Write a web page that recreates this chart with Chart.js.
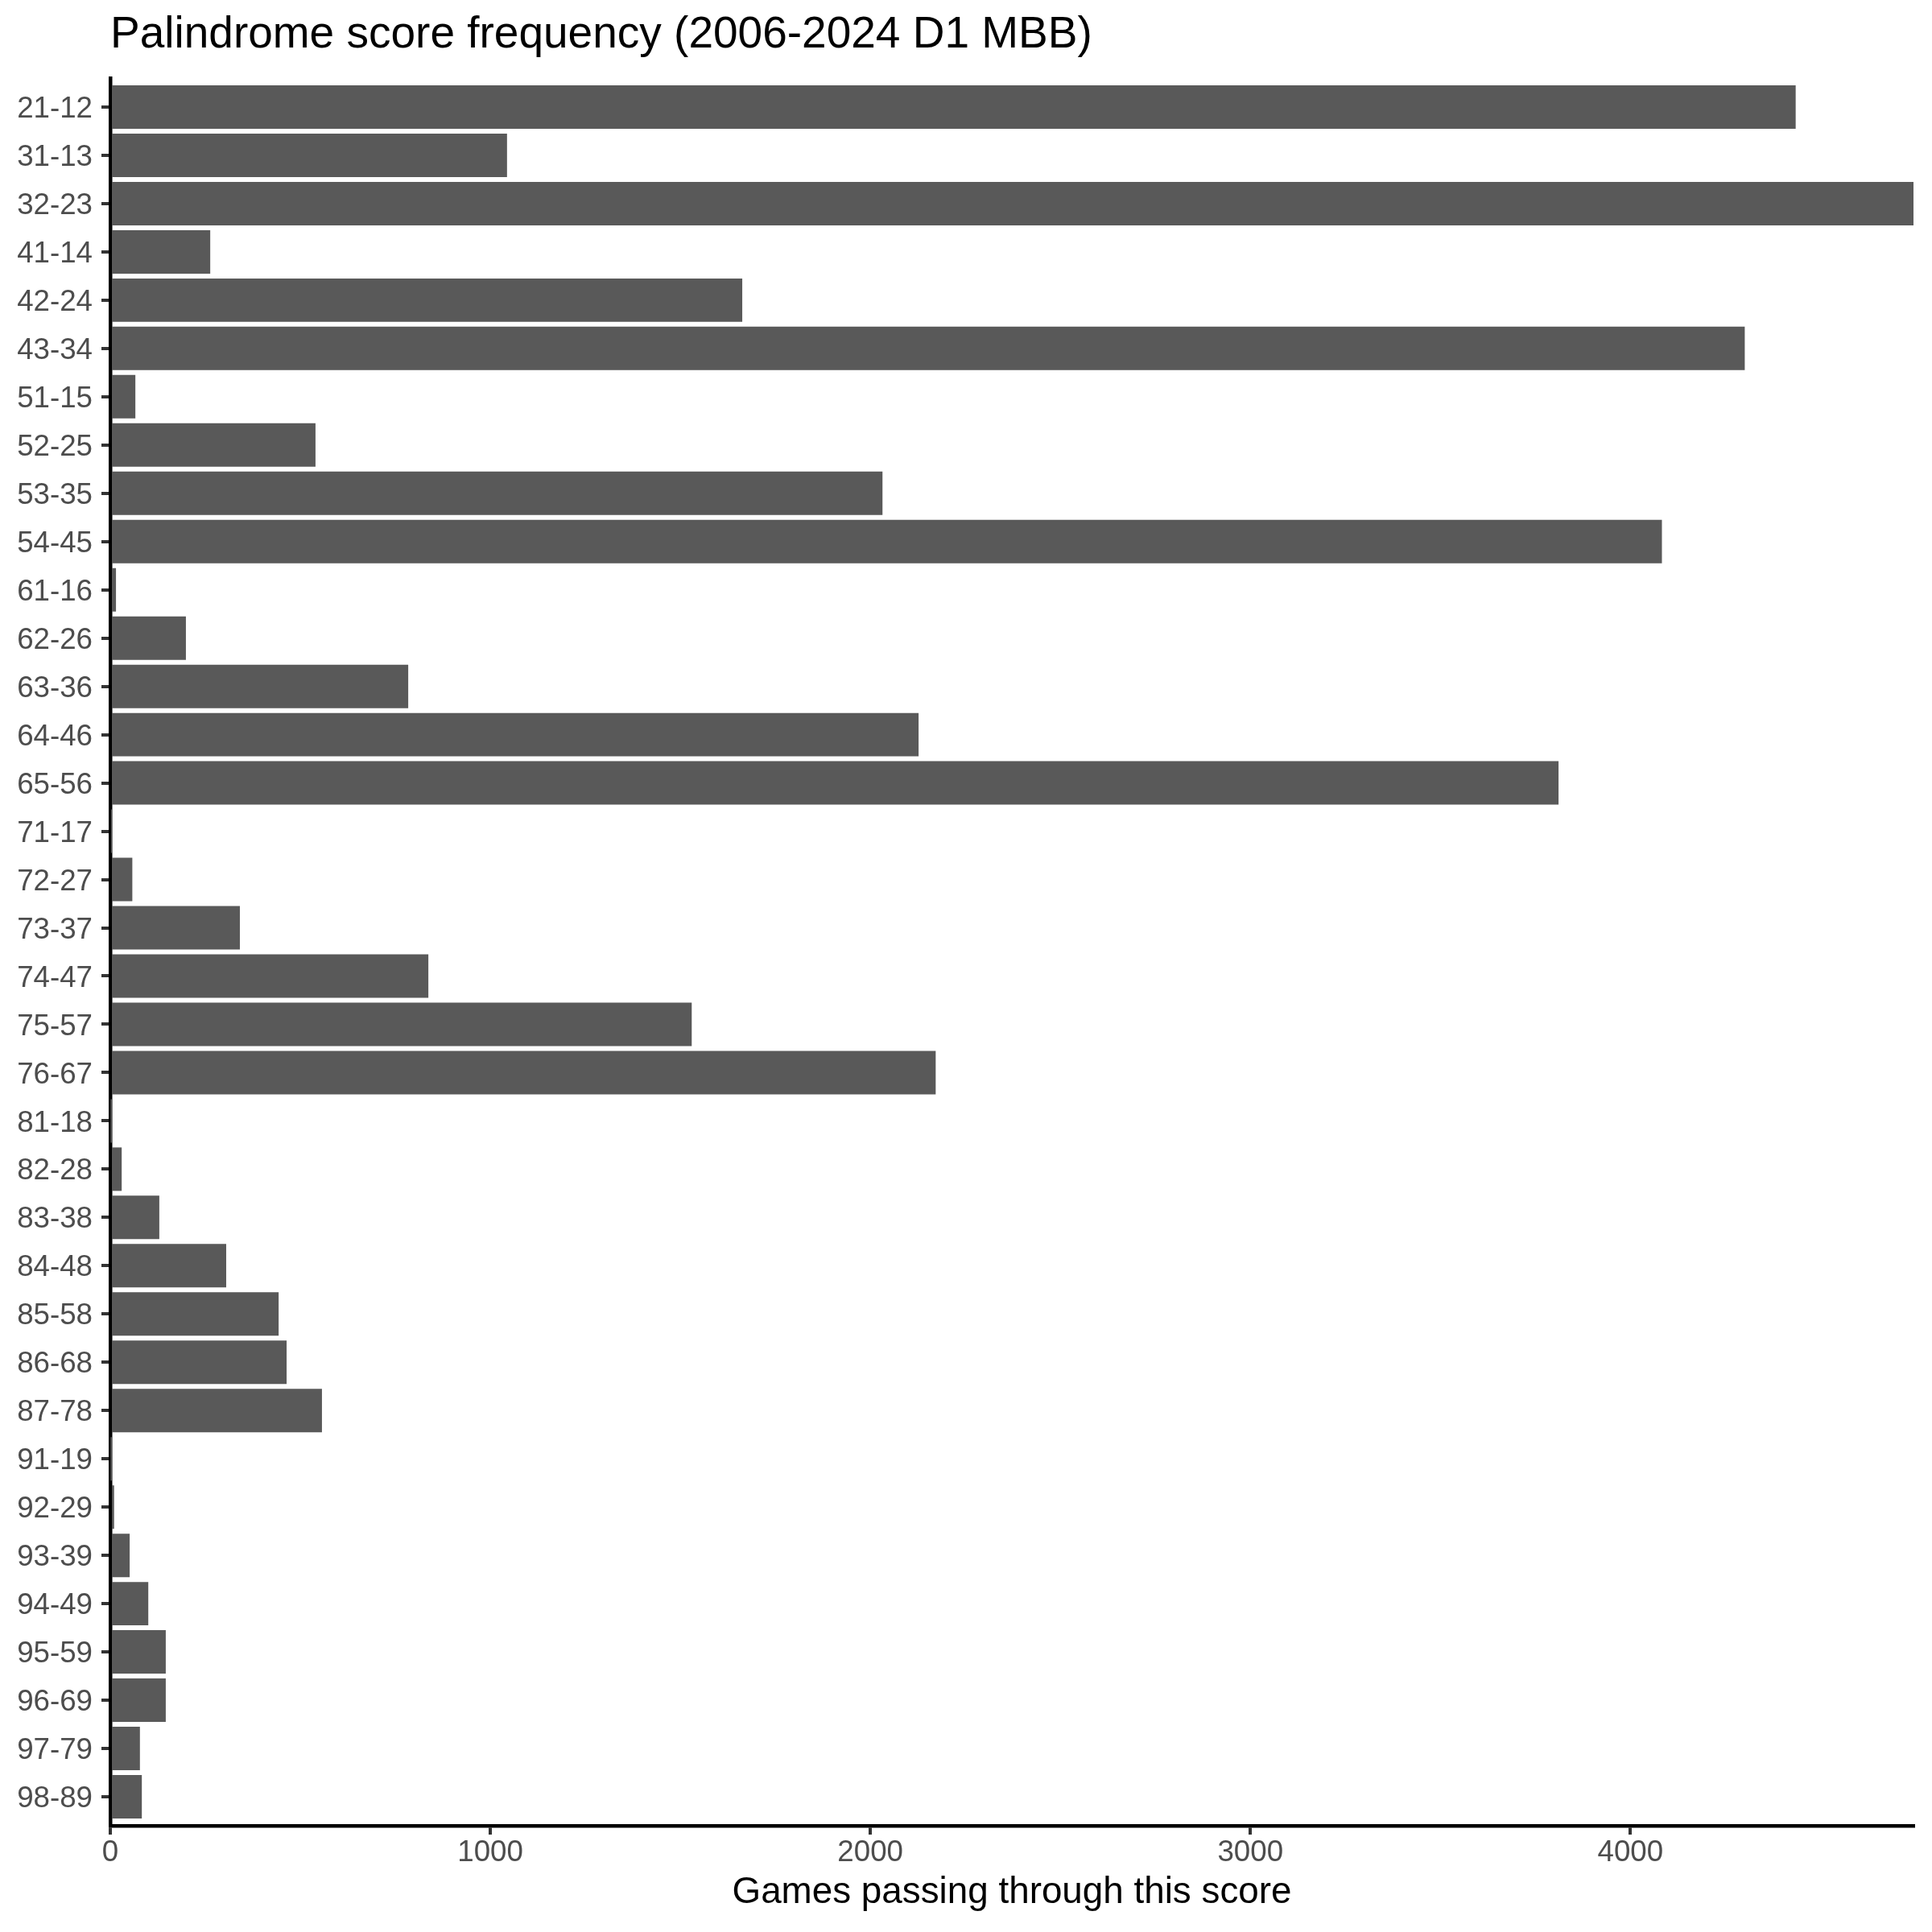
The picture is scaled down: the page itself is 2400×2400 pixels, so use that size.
<!DOCTYPE html>
<html>
<head>
<meta charset="utf-8">
<title>Palindrome score frequency</title>
<script src="https://cdn.jsdelivr.net/npm/chart.js@4.4.1/dist/chart.umd.min.js"></script>
<style>
    html, body { margin: 0; padding: 0; background: #ffffff; }
    #paliChart { display: block; }
</style>
</head>
<body>
<canvas id="paliChart" width="2400" height="2400"></canvas>
<script>
const scores = ['21-12', '31-13', '32-23', '41-14', '42-24', '43-34', '51-15', '52-25', '53-35',
    '54-45', '61-16', '62-26', '63-36', '64-46', '65-56', '71-17', '72-27', '73-37', '74-47',
    '75-57', '76-67', '81-18', '82-28', '83-38', '84-48', '85-58', '86-68', '87-78', '91-19',
    '92-29', '93-39', '94-49', '95-59', '96-69', '97-79', '98-89'];

const games = [4435, 1044, 4745, 263, 1663, 4301, 66, 540, 2032,
    4083, 15, 199, 784, 2127, 3811, 2, 58, 341, 837,
    1530, 2172, 1, 30, 129, 305, 443, 464, 557, 1,
    10, 51, 100, 146, 146, 78, 83];

const xTickValues = [0, 1000, 2000, 3000, 4000];
const xMax = 4745;

const PALICHART = document.getElementById('paliChart');

let paliChart = new Chart(PALICHART, {
    type: 'bar',
    data: {
        datasets: [{
            label: 'Games',
            data: games.map((g, i) => ({ x: g, y: i })),
            backgroundColor: '#595959',
            borderWidth: 0,
            categoryPercentage: 1.0,
            barPercentage: 0.9
        }]
    },
    options: {
        indexAxis: 'y',
        responsive: false,
        animation: false,
        devicePixelRatio: 1,
        layout: {
            padding: { top: 0, left: 0, right: 23, bottom: 0 }
        },
        plugins: {
            legend: { display: false },
            tooltip: { enabled: false },
            title: {
                display: true,
                text: 'Palindrome score frequency (2006-2024 D1 MBB)',
                align: 'start',
                fullSize: false,
                color: '#000000',
                font: { family: '"Liberation Sans", Arial, sans-serif', size: 55, weight: 'normal', lineHeight: 1.2 },
                padding: { top: 11, bottom: 20 }
            }
        },
        scales: {
            x: {
                type: 'linear',
                min: 0,
                max: xMax,
                z: 1,
                afterFit: function (scale) {
                    scale.height = 132;
                },
                afterBuildTicks: function (scale) {
                    scale.ticks = xTickValues.map(v => ({ value: v }));
                },
                grid: {
                    drawOnChartArea: false,
                    drawTicks: true,
                    tickLength: 11,
                    lineWidth: 4,
                    color: '#333333'
                },
                border: { display: true, color: '#000000', width: 4.5 },
                ticks: {
                    padding: 1,
                    color: '#4d4d4d',
                    font: { family: '"Liberation Sans", Arial, sans-serif', size: 36.7 },
                    maxRotation: 0,
                    autoSkip: false,
                    callback: function (value) {
                        return String(value);
                    }
                },
                title: {
                    display: true,
                    text: 'Games passing through this score',
                    color: '#000000',
                    font: { family: '"Liberation Sans", Arial, sans-serif', size: 45.8, lineHeight: 1.2 },
                    padding: { top: 0, bottom: 21 }
                }
            },
            y: {
                type: 'linear',
                reverse: true,
                offset: false,
                min: -0.6,
                max: scores.length - 0.4,
                z: 1,
                afterFit: function (scale) {
                    scale.width = 137;
                },
                afterBuildTicks: function (scale) {
                    scale.ticks = scores.map((s, i) => ({ value: i }));
                },
                grid: {
                    offset: false,
                    drawOnChartArea: false,
                    drawTicks: true,
                    tickLength: 11,
                    lineWidth: 4,
                    color: '#333333'
                },
                border: { display: true, color: '#000000', width: 4.5 },
                ticks: {
                    padding: 11,
                    labelOffset: 3,
                    color: '#4d4d4d',
                    autoSkip: false,
                    font: { family: '"Liberation Sans", Arial, sans-serif', size: 36.7 },
                    callback: function (value) {
                        return scores[value];
                    }
                }
            }
        }
    }
});
</script>
</body>
</html>
